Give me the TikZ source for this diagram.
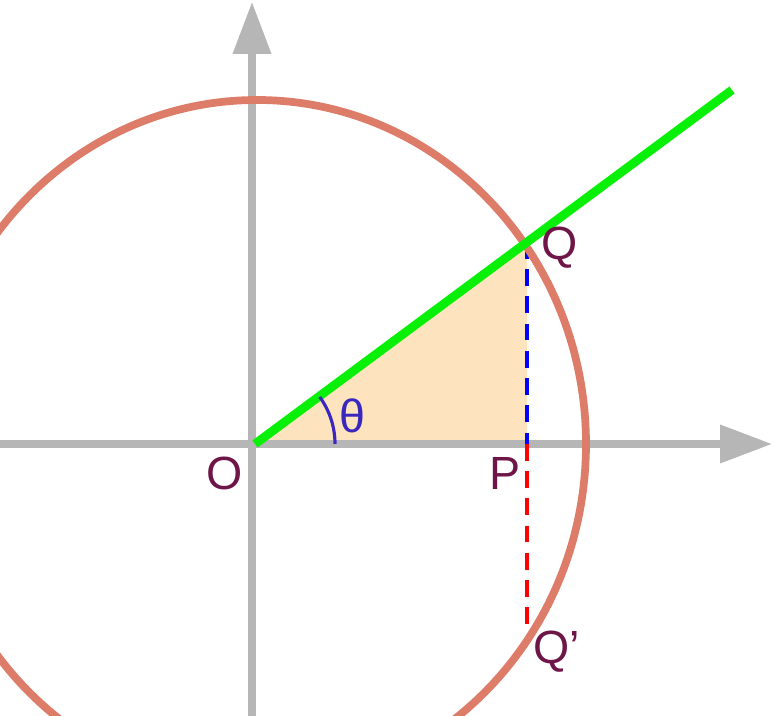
\documentclass[tikz,border=0pt]{standalone}
\usepackage{fontspec}
\setmainfont{Liberation Sans}
\usetikzlibrary{arrows.meta}
\definecolor{axisgray}{RGB}{182,182,182}
\definecolor{ringred}{RGB}{222,124,106}
\definecolor{raygreen}{RGB}{8,240,8}
\definecolor{wedgefill}{RGB}{253,228,190}
\definecolor{labelpurple}{RGB}{110,22,72}
\definecolor{angleblue}{RGB}{58,40,190}
\tikzset{
  axis/.style={draw=axisgray,line width=4pt,-{Triangle[length=29.5pt,width=21pt]}},
  dashline/.style={line width=2pt,dash pattern=on 9.5pt off 6pt},
  ptlabel/.style={text=labelpurple,inner sep=0pt}
}
\begin{document}
\begin{tikzpicture}[x=0.02cm,y=0.02cm,font={\fontsize{26.5}{30}\selectfont}]
\useasboundingbox (0,0) rectangle (774,716);
\coordinate (O) at (255,272);
\coordinate (P) at (527,272);
\coordinate (Q) at (527,474);
\coordinate (Qb) at (527,84);
\coordinate (R) at (732,626);
\coordinate (xl) at (0,272);
\coordinate (xr) at (772,272);
\coordinate (yb) at (252,0);
\coordinate (yt) at (252,714);

\path[fill=wedgefill] (O) -- (Q) -- (P) -- cycle;
\path[axis] (xl) -- (xr);
\path[axis] (yb) -- (yt);

\draw[dashline,blue] (Q) -- (P);
\draw[dashline,red] (P) -- (Qb);

\draw[ringred,line width=4.4pt] (257,272) ellipse [x radius=329,y radius=344];
\draw[raygreen,line width=5pt] (O) -- (R);
\draw[angleblue,line width=1.8pt] ([shift={(80,0)}]O) arc[start angle=0,end angle=36,radius=80];

\node[ptlabel] (Olab) at (225,243) {O};
\node[ptlabel] (Plab) at (505,243) {P};
\node[ptlabel] (Qlab) at (560,468) {Q};
\node[ptlabel] (Qblab) at (557,64) {Q’};
\node[text=angleblue,inner sep=0pt] (th) at (352,300) {θ};
\end{tikzpicture}
\end{document}
